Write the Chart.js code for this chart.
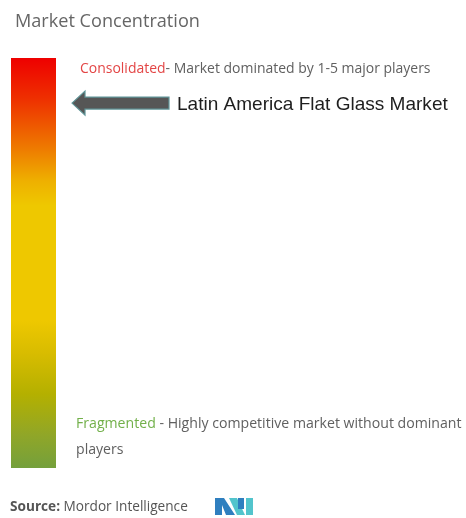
<!DOCTYPE html>
<html>
<head>
<meta charset="utf-8">
<script src="https://cdn.jsdelivr.net/npm/chart.js@4/dist/chart.umd.min.js"></script>
<style>
html,body{margin:0;padding:0;background:#fff;}
#wrap{width:466px;height:518px;position:relative;}
</style>
</head>
<body>
<div id="wrap"><canvas id="c" width="466" height="518"></canvas></div>
<script>
// ---- data ----
const categories = ['Market Concentration'];
const concentrationRange = [[0, 100]];          // full scale from fragmented (0) to consolidated (100)
const marketName = 'Latin America Flat Glass Market';
const marketPosition = [89];                     // where the arrow points on the 0-100 scale
const titleText = 'Market Concentration';
const topLabel = ['Consolidated', '- Market dominated by 1-5 major players'];
const bottomLabel = ['Fragmented', ' - Highly competitive market without dominant', 'players'];
const sourceText = ['Source:', ' Mordor Intelligence'];

// gradient stops (0 = top / consolidated, 1 = bottom / fragmented)
const gradStops = [
  [0.00, '#ee0000'],
  [0.10, '#ee3000'],
  [0.22, '#ee7a00'],
  [0.30, '#eeb000'],
  [0.36, '#eec800'],
  [0.64, '#eec800'],
  [0.72, '#d8bc00'],
  [0.82, '#b4b000'],
  [0.92, '#90a628'],
  [1.00, '#74a03c']
];

function fitFont(ctx, parts, width, family, weights) {
  let total = 0;
  parts.forEach((p, i) => {
    ctx.font = (weights ? weights[i] : 'normal') + ' 100px ' + family;
    total += ctx.measureText(p).width;
  });
  return 100 * width / total;
}
function drawParts(ctx, parts, colors, x, y, size, family, weights) {
  let cx = x;
  parts.forEach((p, i) => {
    ctx.font = (weights ? weights[i] : 'normal') + ' ' + size + 'px ' + family;
    ctx.fillStyle = colors[i];
    ctx.textBaseline = 'alphabetic';
    ctx.textAlign = 'left';
    ctx.fillText(p, cx, y);
    cx += ctx.measureText(p).width;
  });
}

const decor = {
  id: 'decor',
  afterDraw(chart) {
    const ctx = chart.ctx;
    const area = chart.chartArea;
    const ys = chart.scales.y;
    ctx.save();
    const fam = '"Open Sans", sans-serif';
    // title
    let s = fitFont(ctx, [titleText], 185, fam);
    drawParts(ctx, [titleText], ['#666666'], 15, 27, s, fam);
    // consolidated line
    s = fitFont(ctx, topLabel, 351, fam);
    drawParts(ctx, topLabel, ['#e34545', '#606060'], 80, 73, s, fam);
    // fragmented line
    const fragParts = [bottomLabel[0], bottomLabel[1]];
    s = fitFont(ctx, fragParts, 386, fam);
    drawParts(ctx, fragParts, ['#72b04a', '#606060'], 76, 428, s, fam);
    drawParts(ctx, [bottomLabel[2]], ['#606060'], 76, 454, s, fam);
    // source
    s = fitFont(ctx, sourceText, 178, fam, ['bold', 'normal']);
    drawParts(ctx, sourceText, ['#555555', '#555555'], 10, 511, s, fam, ['bold', 'normal']);

    // arrow pointing at the bar
    const ay = ys.getPixelForValue(marketPosition[0]);
    const tipX = area.right + 16;
    const headX = tipX + 13;
    const endX = tipX + 97;
    ctx.beginPath();
    ctx.moveTo(tipX, ay);
    ctx.lineTo(headX, ay - 12);
    ctx.lineTo(headX, ay - 6);
    ctx.lineTo(endX, ay - 6);
    ctx.lineTo(endX, ay + 6);
    ctx.lineTo(headX, ay + 6);
    ctx.lineTo(headX, ay + 12);
    ctx.closePath();
    ctx.fillStyle = '#565656';
    ctx.fill();
    ctx.lineWidth = 1.2;
    ctx.strokeStyle = '#5f9497';
    ctx.stroke();
    // market label
    const lf = '"Liberation Sans", Arial, sans-serif';
    s = fitFont(ctx, [marketName], 271, lf);
    drawParts(ctx, [marketName], ['#1e1e1e'], 177, ay + 7, s, lf);

    // logo
    const lx = 215, ly = 498, lh = 17;
    ctx.fillStyle = '#2f7fbf';
    ctx.beginPath();
    ctx.moveTo(lx, ly); ctx.lineTo(lx + 9, ly); ctx.lineTo(lx + 20, ly + lh); ctx.lineTo(lx + 11, ly + lh);
    ctx.lineTo(lx + 7, ly + 7); ctx.lineTo(lx + 7, ly + lh); ctx.lineTo(lx, ly + lh); ctx.closePath();
    ctx.fill();
    ctx.fillStyle = '#52c4cc';
    ctx.beginPath();
    ctx.moveTo(lx + 14, ly); ctx.lineTo(lx + 22, ly); ctx.lineTo(lx + 30, ly + lh); ctx.lineTo(lx + 22, ly + lh); ctx.closePath();
    ctx.fill();
    ctx.fillStyle = '#2f7fbf';
    ctx.fillRect(lx + 23, ly, 6, lh - 6);
    ctx.fillStyle = '#52c4cc';
    ctx.fillRect(lx + 31, ly, 7, lh);
    ctx.restore();
  }
};

new Chart(document.getElementById('c'), {
  type: 'bar',
  data: {
    labels: categories,
    datasets: [{
      data: concentrationRange,
      borderWidth: 0,
      barPercentage: 1,
      categoryPercentage: 1,
      backgroundColor(ctx) {
        const a = ctx.chart.chartArea;
        if (!a) return '#eec800';
        const g = ctx.chart.ctx.createLinearGradient(0, a.top, 0, a.bottom);
        gradStops.forEach(st => g.addColorStop(st[0], st[1]));
        return g;
      }
    }]
  },
  options: {
    responsive: false,
    animation: false,
    events: [],
    layout: { padding: { left: 11, right: 410, top: 58, bottom: 50 } },
    plugins: { legend: { display: false }, tooltip: { enabled: false }, title: { display: false } },
    scales: {
      x: { display: false },
      y: { display: false, min: 0, max: 100 }
    }
  },
  plugins: [decor]
});
</script>
</body>
</html>
